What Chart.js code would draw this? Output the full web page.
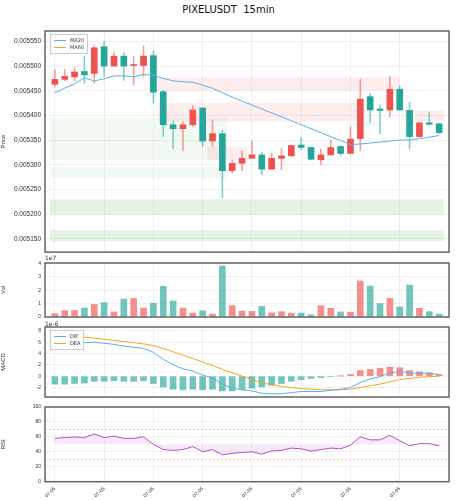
<!DOCTYPE html>
<html>
<head>
<meta charset="utf-8">
<script src="https://cdn.jsdelivr.net/npm/chart.js@4.4.1/dist/chart.umd.min.js"></script>
<style>
  body { margin: 0; background: #fff; font-family: "DejaVu Sans", sans-serif; }
  #wrap { position: relative; width: 457px; height: 500px; }
  .pane { position: absolute; left: 0; width: 457px; }
  .note { position: absolute; font-size: 6px; color: #333; }
  .legend { position: absolute; font-size: 5px; color: #333; background: rgba(255,255,255,0.9);
            border: 1px solid #ccc; padding: 2px 3px; line-height: 7px; }
  .legend span { display: inline-block; width: 12px; height: 1px; vertical-align: middle; margin-right: 4px; }
</style>
</head>
<body>
<div id="wrap">
  <div style="position:absolute;top:4px;width:457px;text-align:center;font-size:10px;color:#111;">PIXELUSDT&nbsp;&nbsp;15min</div>
  <div class="pane" style="top:0;height:258px"><canvas id="cPrice"></canvas></div>
  <div class="pane" style="top:258px;height:64px"><canvas id="cVol"></canvas></div>
  <div class="pane" style="top:322px;height:80px"><canvas id="cMacd"></canvas></div>
  <div class="pane" style="top:402px;height:98px"><canvas id="cRsi"></canvas></div>
  <div class="legend" style="left:50px;top:34px"><span style="background:#5aaef0"></span>MA20<br><span style="background:#f5a623"></span>MA60</div>
  <div class="legend" style="left:50px;top:330px"><span style="background:#5aaef0"></span>DIF<br><span style="background:#f5a623"></span>DEA</div>
  <div class="note" style="left:45px;top:254px">1e7</div>
  <div class="note" style="left:45px;top:320px">1e-6</div>
</div>
<script>
// candles (red = up, green = down)
const opens  = [5463,5473,5478,5489,5485,5539,5500,5520,5501,5501,5521,5448,5381,5373,5381,5415,5348,5363,5288,5303,
                5313,5320,5291,5313,5318,5340,5335,5310,5320,5337,5323,5353,5438,5413,5411,5453,5410,5357,5385,5383];
const closes = [5473,5479,5488,5482,5537,5500,5520,5500,5503,5520,5447,5381,5373,5381,5411,5348,5363,5288,5303,5313,
                5320,5291,5313,5318,5339,5335,5311,5320,5335,5323,5352,5433,5411,5410,5453,5411,5357,5385,5382,5365];
const highs  = [5493,5493,5497,5520,5541,5550,5529,5527,5520,5541,5531,5451,5388,5387,5420,5415,5390,5370,5310,5327,
                5348,5325,5323,5333,5340,5355,5336,5332,5350,5339,5377,5473,5445,5421,5479,5459,5427,5386,5407,5384];
const lows   = [5457,5470,5470,5465,5465,5479,5500,5471,5461,5479,5425,5357,5333,5328,5377,5337,5337,5233,5283,5288,
                5313,5280,5291,5290,5317,5330,5310,5300,5319,5318,5322,5329,5385,5363,5397,5410,5332,5356,5380,5363];
const ma20   = [5446,5455,5464,5476,5470,5474,5480,5480,5478,5483,5481,5475,5470,5468,5467,5461,5455,5446,5437,5429,
                5421,5413,5405,5397,5389,5381,5373,5365,5357,5349,5341,5342,5344,5346,5348,5350,5350,5353,5356,5359];
const volume = [0.25,0.47,0.49,0.67,0.94,1.07,0.38,1.34,1.39,0.67,1.03,2.3,1.2,0.67,0.29,0.47,0.22,3.82,0.85,0.45,
                0.42,0.8,0.31,0.4,0.29,0.29,0.16,0.85,0.65,0.38,0.36,2.7,2.32,1.0,1.39,0.76,2.4,0.65,0.4,0.22];
const macdHist = [-1.4,-1.4,-1.3,-1.2,-0.9,-0.9,-0.8,-0.9,-0.9,-0.8,-1.3,-1.9,-2.3,-2.4,-2.3,-2.4,-2.3,-2.6,-2.6,-2.4,
                  -2.1,-1.9,-1.6,-1.3,-0.9,-0.6,-0.4,-0.25,-0.1,0.02,0.3,1.0,1.2,1.4,1.6,1.5,1.0,0.8,0.6,0.3];
const dif = [6.5,6.3,6.1,5.9,6.0,5.8,5.6,5.3,5.1,4.9,4.2,3.0,2.0,1.3,0.9,0.2,-0.3,-1.4,-2.1,-2.4,
             -2.6,-3.0,-3.1,-3.1,-2.9,-2.7,-2.7,-2.7,-2.5,-2.3,-2.0,-1.1,-0.5,-0.1,0.6,0.8,0.6,0.5,0.5,0.3];
const dea = [7.9,7.5,7.2,6.9,6.7,6.5,6.3,6.1,5.9,5.7,5.4,4.9,4.3,3.7,3.1,2.5,1.9,1.2,0.6,0.0,
             -0.6,-1.1,-1.5,-1.8,-2.0,-2.2,-2.3,-2.4,-2.4,-2.4,-2.3,-2.0,-1.7,-1.4,-1.0,-0.6,-0.4,-0.2,-0.1,0.0];
const rsi = [58,59,60,59,64,59,61,58,58,60,50,43,42,43,47,40,43,36,38,39,
             40,37,41,42,45,44,41,43,45,44,49,60,56,56,62,55,48,51,51,48];
// zones: [xStart, xEnd, low, high, kind]
const zones = [
  [-0.5,17.5,5310,5395,'g1'], [-0.5,17.5,5273,5295,'g1'], [-0.5,39.5,5199,5230,'g2'], [-0.5,39.5,5145,5168,'g2'],
  [29.5,33,5379,5385,'g1'], [9.5,35,5450,5477,'r'], [10.5,31,5388,5425,'r'], [15.5,19.5,5310,5337,'r'], [35.5,39.5,5388,5410,'r']
];
const priceTicks = [5150,5200,5250,5300,5350,5400,5450,5500,5550];
const volTicks = [0,1,2,3,4];
const macdTicks = [-2,0,2,4,6,8];
const rsiTicks = [0,20,40,60,80,100];
const rsiLevels = [[70,'rgba(38,166,154,0.6)'],[30,'rgba(239,83,80,0.6)']];
const xTicks = [0,5,10,15,20,25,30,35];
const xLabels = ['07-05','07-05','07-05','07-05','07-05','07-05','07-05','07-05'];

const UP = '#ef5350', DN = '#26a69a';
const idx = opens.map((_, i) => i);
const isUp = idx.map(i => closes[i] >= opens[i]);
const sc = v => v / 1e6;

const frame = {
  id: 'frame',
  afterDraw(c) {
    const a = c.chartArea, g = c.ctx;
    g.save(); g.strokeStyle = '#666'; g.lineWidth = 1.5;
    g.strokeRect(a.left, a.top, a.right - a.left, a.bottom - a.top); g.restore();
  }
};
const zonePlugin = {
  id: 'zones',
  beforeDatasetsDraw(c) {
    const x = c.scales.x, y = c.scales.y, g = c.ctx;
    const fills = { r: 'rgba(239,83,80,0.1)', g1: 'rgba(76,175,80,0.07)', g2: 'rgba(76,175,80,0.15)' };
    g.save();
    zones.forEach(z => {
      const x0 = x.getPixelForValue(z[0]), x1 = x.getPixelForValue(z[1]);
      const y0 = y.getPixelForValue(sc(z[3])), y1 = y.getPixelForValue(sc(z[2]));
      g.fillStyle = fills[z[4]]; g.fillRect(x0, y0, x1 - x0, y1 - y0);
    });
    g.restore();
  }
};
const levelPlugin = {
  id: 'levels',
  beforeDatasetsDraw(c) {
    const a = c.chartArea, y = c.scales.y, g = c.ctx;
    g.save(); g.setLineDash([2, 2]); g.lineWidth = 0.6;
    rsiLevels.forEach(l => {
      const py = y.getPixelForValue(l[0]);
      g.strokeStyle = l[1]; g.beginPath(); g.moveTo(a.left, py); g.lineTo(a.right, py); g.stroke();
    });
    g.restore();
  }
};

function xScale(showLabels) {
  return {
    type: 'linear', min: -1, max: 40, offset: false,
    afterBuildTicks: s => { s.ticks = xTicks.map(v => ({ value: v })); },
    grid: { color: 'rgba(0,0,0,0.06)', drawTicks: showLabels, tickLength: 3, offset: false },
    border: { display: false },
    ticks: {
      display: showLabels, maxRotation: 45, minRotation: 45, font: { size: 5 }, color: '#333', padding: 1,
      callback: v => { const k = xTicks.indexOf(v); return k >= 0 ? xLabels[k] : ''; }
    }
  };
}
function yScale(min, max, ticks, title, fmt, fs) {
  return {
    min, max,
    afterBuildTicks: s => { s.ticks = ticks.map(v => ({ value: v })); },
    afterFit: s => { s.width = 45; },
    grid: { color: 'rgba(0,0,0,0.06)', drawTicks: true, tickLength: 2 },
    border: { display: false },
    ticks: { font: { size: fs }, color: '#333', padding: 2, callback: fmt },
    title: { display: true, text: title, font: { size: 6 }, color: '#333', padding: 0 }
  };
}
function baseOpts(x, y, padTop) {
  return {
    responsive: true, maintainAspectRatio: false, animation: false,
    layout: { padding: { top: padTop, right: 8, left: 0, bottom: 0 } },
    plugins: { legend: { display: false }, tooltip: { enabled: false } },
    scales: { x, y }
  };
}

new Chart(document.getElementById('cPrice'), {
  type: 'bar',
  data: { datasets: [
    { type: 'line', data: idx.map(i => ({ x: i, y: sc(ma20[i]) })), borderColor: '#5aaef0', borderWidth: 1, pointRadius: 0, order: 0 },
    { data: idx.map(i => ({ x: i, y: [sc(lows[i]), sc(highs[i])] })), grouped: false, barThickness: 1,
      backgroundColor: idx.map(i => isUp[i] ? 'rgba(239,83,80,0.55)' : 'rgba(38,166,154,0.55)'), order: 2 },
    { data: idx.map(i => ({ x: i, y: [sc(opens[i]), sc(closes[i])] })), grouped: false, barThickness: 6, minBarLength: 1,
      backgroundColor: idx.map(i => isUp[i] ? UP : DN), order: 1 }
  ] },
  options: baseOpts(xScale(false), yScale(0.005123, 0.005571, priceTicks.map(sc), 'Price', v => v.toFixed(6), 6.5), 31),
  plugins: [zonePlugin, frame]
});

new Chart(document.getElementById('cVol'), {
  type: 'bar',
  data: { datasets: [
    { data: idx.map(i => ({ x: i, y: volume[i] })), barThickness: 6,
      backgroundColor: idx.map(i => isUp[i] ? 'rgba(239,83,80,0.65)' : 'rgba(38,166,154,0.65)') }
  ] },
  options: baseOpts(xScale(false), yScale(0, 4.05, volTicks, 'Vol', v => v, 5), 3),
  plugins: [frame]
});

new Chart(document.getElementById('cMacd'), {
  type: 'bar',
  data: { datasets: [
    { type: 'line', data: idx.map(i => ({ x: i, y: dif[i] })), borderColor: '#5aaef0', borderWidth: 1, pointRadius: 0, order: 0 },
    { type: 'line', data: idx.map(i => ({ x: i, y: dea[i] })), borderColor: '#f5a623', borderWidth: 1, pointRadius: 0, order: 0 },
    { data: idx.map(i => ({ x: i, y: macdHist[i] })), barThickness: 6, order: 1,
      backgroundColor: macdHist.map(v => v >= 0 ? 'rgba(239,83,80,0.65)' : 'rgba(38,166,154,0.65)') }
  ] },
  options: baseOpts(xScale(false), yScale(-3.67, 8.67, macdTicks, 'MACD', v => v, 5), 4),
  plugins: [frame]
});

new Chart(document.getElementById('cRsi'), {
  type: 'line',
  data: { datasets: [
    { data: idx.map(i => ({ x: i, y: rsi[i] })), borderColor: '#b84fc8', borderWidth: 1, pointRadius: 0,
      fill: { value: 50 }, backgroundColor: 'rgba(184,79,200,0.12)' }
  ] },
  options: baseOpts(xScale(true), yScale(0, 100, rsiTicks, 'RSI', v => v, 5), 3),
  plugins: [levelPlugin, frame]
});
</script>
</body>
</html>
